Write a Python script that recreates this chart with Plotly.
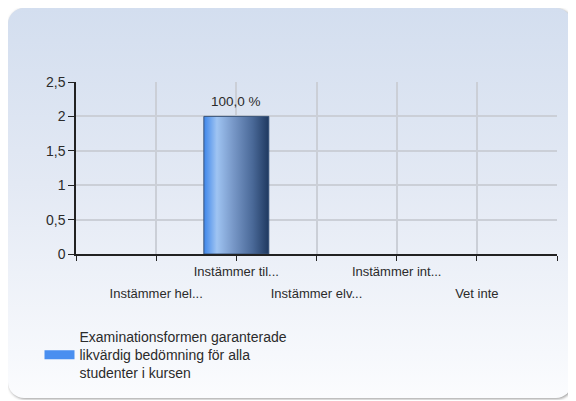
import base64
import plotly.graph_objects as go

# data
categories = ["Instämmer hel...", "Instämmer til...", "Instämmer elv...", "Instämmer int...", "Vet inte"]
positions = [1, 2, 3, 4, 5]
values = [0, 2, 0, 0, 0]
percent_labels = ["", "100,0 %", "", "", ""]
y_ticks = [0, 0.5, 1, 1.5, 2, 2.5]
series_name = "Examinationsformen garanterade<br>likvärdig bedömning för alla<br>studenter i kursen"

FONT = "Liberation Sans, Arial, sans-serif"
TEXT = "#2b2b2b"
GRID = "#cbcfd7"
BAR_W = 0.81
W, H = 566, 392  # the page adds an 8px body margin

# panel background (rounded, vertical gradient, soft shadow)
svg = f"""<svg xmlns='http://www.w3.org/2000/svg' width='{W}' height='{H}'>
<defs>
<linearGradient id='g' x1='0' y1='0' x2='0' y2='1'>
<stop offset='0' stop-color='#d3deef'/><stop offset='0.45' stop-color='#e3e9f4'/><stop offset='1' stop-color='#fbfcfe'/>
</linearGradient>
<filter id='s' x='-5%' y='-5%' width='110%' height='110%'><feGaussianBlur stdDeviation='1.5'/></filter>
</defs>
<rect x='1' y='1' width='{W - 2}' height='{H - 2}' rx='16' fill='#9a9a9a' filter='url(#s)'/>
<rect x='0' y='0' width='{W - 2}' height='{H - 2}' rx='16' fill='url(#g)'/>
</svg>"""
bg_src = "data:image/svg+xml;base64," + base64.b64encode(svg.encode()).decode()

fig = go.Figure()

# the bars (solid, legend hidden) + gradient overlay
fig.add_trace(go.Bar(x=positions, y=values, width=BAR_W, marker_color="#4a8ff0",
                     marker_line_width=0, showlegend=False, hoverinfo="skip"))

for p, v in zip(positions, values):
    if v <= 0:
        continue
    fig.add_trace(go.Scatter(
        x=[p - BAR_W / 2, p - BAR_W / 2, p + BAR_W / 2, p + BAR_W / 2, p - BAR_W / 2],
        y=[0, v, v, 0, 0],
        mode="lines", fill="toself",
        line=dict(color="#3d5577", width=1),
        fillgradient=dict(type="horizontal", colorscale=[
            [0.0, "#3e86ea"], [0.2, "#9fc4f2"], [0.45, "#7898c8"], [0.75, "#4a6998"], [1.0, "#1f3960"]]),
        showlegend=False, hoverinfo="skip",
    ))

# legend entry
fig.add_trace(go.Scatter(x=[None], y=[None], mode="lines", name=series_name,
                         line=dict(color="#4a8ff0", width=9)))

# empty trace for the lower row of category labels
fig.add_trace(go.Scatter(x=[None], y=[None], xaxis="x2", showlegend=False))

for p, lab in zip(positions, percent_labels):
    if lab:
        fig.add_annotation(x=p, y=values[positions.index(p)], text=lab, showarrow=False,
                           yanchor="bottom", yshift=5, font=dict(size=13.5, color=TEXT, family=FONT))

upper = [c if p % 2 == 0 else "" for p, c in zip(positions, categories)]
lower = [c for p, c in zip(positions, categories) if p % 2 == 1]
x_dom = [68 / W, 549 / W]

fig.update_layout(
    width=W, height=H,
    margin=dict(l=0, r=0, t=0, b=0, autoexpand=False),
    paper_bgcolor="rgba(0,0,0,0)",
    plot_bgcolor="rgba(0,0,0,0)",
    separators=", ",
    font=dict(family=FONT, size=13, color=TEXT),
    images=[dict(source=bg_src, xref="paper", yref="paper", x=0, y=1, sizex=1, sizey=1,
                 sizing="stretch", xanchor="left", yanchor="top", layer="below")],
    xaxis=dict(
        domain=x_dom, range=[0, 6],
        tickvals=[0] + positions + [6], ticktext=[""] + upper + [""],
        tickangle=0, automargin=False,
        showgrid=True, gridcolor=GRID, gridwidth=1.5,
        showline=True, linecolor="#222222", linewidth=1.5,
        ticks="outside", ticklen=5, tickcolor="#222222",
        zeroline=False, fixedrange=True,
    ),
    xaxis2=dict(
        overlaying="x", anchor="y", side="bottom", range=[0, 6], domain=x_dom,
        tickvals=[p for p in positions if p % 2 == 1], ticktext=lower,
        tickangle=0, automargin=False,
        showgrid=False, showline=False, ticks="", zeroline=False,
        ticklabelstandoff=30,
    ),
    yaxis=dict(
        domain=[1 - 246 / H, 1 - 74 / H], range=[0, 2.5],
        tickvals=y_ticks, automargin=False, tickfont=dict(size=14),
        showgrid=True, gridcolor=GRID, gridwidth=1.5,
        showline=True, linecolor="#222222", linewidth=1.5,
        ticks="outside", ticklen=6, tickcolor="#222222",
        zeroline=False, fixedrange=True,
    ),
    showlegend=True,
    legend=dict(xref="container", yref="container", x=31.5 / W, y=1 - 313 / H,
                xanchor="left", yanchor="top", bgcolor="rgba(0,0,0,0)",
                font=dict(size=14, color=TEXT, family=FONT)),
)

fig.write_html("out.html")
